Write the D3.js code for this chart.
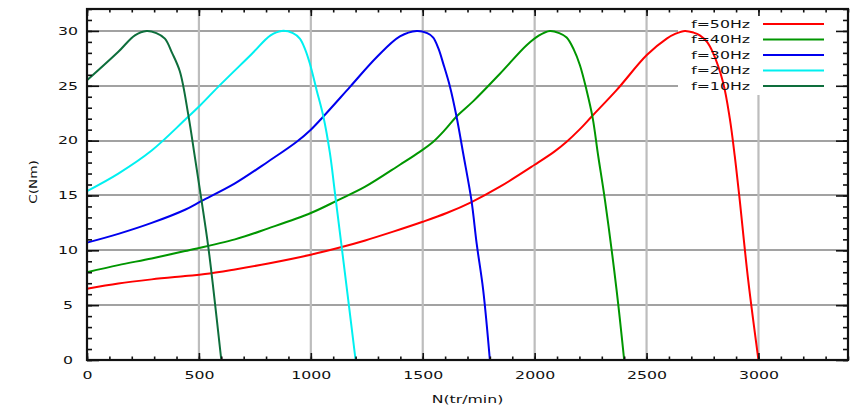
<!DOCTYPE html>
<html lang="fr">
  <head>
    <meta charset="UTF-8" />
    <title>C(N)</title>
    <style>
      body { margin: 0; background: #fff; }
      text { font-family: "DejaVu Sans", sans-serif; font-size: 10.5px; fill: #111; }
    </style>
  </head>
  <body>
    <div class="chart"></div>

    <script src="https://d3js.org/d3.v7.min.js"></script>
    <script>
      // valeurs : N (tr/min) et C (Nm)
      const n50 = [0, 140, 289, 438, 527, 661, 810, 1000, 1138, 1243, 1368, 1500, 1607, 1718, 1845, 2000, 2088, 2143, 2200, 2255, 2366, 2501, 2590, 2630, 2671, 2710, 2738, 2770, 2797, 2842, 2872, 2894, 2914, 2954, 3000];
      const c50 = [6.5, 6.98, 7.35, 7.65, 7.83, 8.26, 8.8, 9.6, 10.3, 10.9, 11.7, 12.6, 13.4, 14.4, 15.8, 17.8, 19.0, 19.9, 21.0, 22.2, 24.6, 27.8, 29.3, 29.75, 30.0, 29.85, 29.6, 29.0, 28.0, 25.3, 22.0, 18.6, 15.0, 7.3, 0];

      const n40 = [0, 140, 289, 438, 661, 810, 1000, 1124, 1243, 1398, 1488, 1547, 1600, 1651, 1726, 1845, 1964, 2020, 2068, 2110, 2143, 2175, 2202, 2232, 2259, 2284, 2314, 2366, 2400];
      const c40 = [8.0, 8.65, 9.26, 9.93, 11.0, 12.0, 13.4, 14.6, 15.8, 17.8, 19.0, 19.9, 21.0, 22.2, 23.6, 26.1, 28.7, 29.6, 30.0, 29.8, 29.4, 28.3, 26.9, 24.6, 22.1, 18.6, 14.6, 6.4, 0];

      const n30 = [0, 140, 289, 438, 512, 661, 810, 937, 1000, 1056, 1175, 1294, 1398, 1473, 1520, 1547, 1570, 1592, 1622, 1651, 1681, 1718, 1741, 1770, 1800];
      const c30 = [10.7, 11.5, 12.5, 13.7, 14.5, 16.1, 18.1, 19.9, 21.0, 22.2, 24.9, 27.6, 29.5, 30.0, 29.8, 29.4, 28.4, 27.0, 24.9, 22.2, 18.8, 14.5, 10.6, 6.4, 0];

      const n20 = [0, 140, 289, 438, 505, 586, 736, 820, 870, 920, 951, 975, 996, 1026, 1056, 1085, 1108, 1167, 1200];
      const c20 = [15.4, 17.0, 19.1, 21.9, 23.2, 24.9, 27.9, 29.6, 30.0, 29.8, 29.3, 28.3, 27.0, 24.6, 22.2, 18.9, 15.2, 5.5, 0];

      const n10 = [0, 140, 214, 266, 310, 348, 380, 415, 453, 482, 512, 542, 565, 600];
      const c10 = [25.5, 28.1, 29.6, 30.0, 29.8, 29.3, 28.0, 26.3, 22.3, 18.5, 14.5, 10.3, 6.4, 0];

      const seriesNames = ["f=50Hz", "f=40Hz", "f=30Hz", "f=20Hz", "f=10Hz"];
      const xTicks = [0, 500, 1000, 1500, 2000, 2500, 3000];
      const yTicks = [0, 5, 10, 15, 20, 25, 30];

      const colors = ["#ff0000", "#009600", "#0000ee", "#00f0f0", "#0e6e3c"];
      const series = [
        [n50, c50],
        [n40, c40],
        [n30, c30],
        [n20, c20],
        [n10, c10],
      ].map(([n, c], i) => ({
        name: seriesNames[i],
        color: colors[i],
        pts: n.map((v, j) => ({ n: v, c: c[j] })),
      }));

      const W = 860, H = 412;
      const m = { left: 87, top: 9, right: 12, bottom: 52 };
      const x0 = m.left, x1 = W - m.right, y0 = H - m.bottom, y1 = m.top;
      const sx = 1.5; // police étirée horizontalement

      const svg = d3.select(".chart").append("svg").attr("width", W).attr("height", H);
      svg.append("rect").attr("width", W).attr("height", H).attr("fill", "#fff");

      const xScale = d3.scaleLinear().domain([0, 3400]).range([x0, x1]);
      const yScale = d3.scaleLinear().domain([0, 32]).range([y0, y1]);

      // grille
      const grid = svg.append("g");
      grid.selectAll("rect.gy").data(yTicks.slice(1)).enter().append("rect")
        .attr("class", "gy")
        .attr("x", x0)
        .attr("y", (d) => Math.round(yScale(d)) - 1)
        .attr("width", x1 - x0)
        .attr("height", 2)
        .attr("fill", "#a2a2a2");

      grid.selectAll("rect.gx").data(xTicks.slice(1)).enter().append("rect")
        .attr("class", "gx")
        .attr("x", (d) => xScale(d) - 1.1)
        .attr("y", y1)
        .attr("width", 2.2)
        .attr("height", y0 - y1)
        .attr("fill", "#bdbdbd");

      // fond de la légende
      svg.append("rect").attr("x", 678).attr("y", y1 + 1).attr("width", x1 - 678 - 1).attr("height", 85).attr("fill", "#fff");

      // courbes
      const line = d3.line()
        .x((d) => xScale(d.n))
        .y((d) => yScale(d.c))
        .curve(d3.curveCatmullRom.alpha(0.5));

      svg.append("g").selectAll("path").data(series).enter().append("path")
        .attr("d", (d) => line(d.pts))
        .attr("fill", "none")
        .attr("stroke", (d) => d.color)
        .attr("stroke-width", 2)
        .attr("stroke-linejoin", "round");

      // axes (graduations vers l'intérieur)
      const minorX = d3.range(0, 3401, 100);
      const minorY = d3.range(0, 33, 1);

      const addAxis = (axis, tx, ty) =>
        svg.append("g").attr("transform", `translate(${tx},${ty})`).call(axis)
          .call((g) => g.select(".domain").remove())
          .call((g) => g.selectAll("line").attr("stroke", "#111").attr("stroke-width", 1.6));

      addAxis(d3.axisBottom(xScale).tickValues(minorX).tickSize(-3.5).tickFormat(""), 0, y0);
      addAxis(d3.axisTop(xScale).tickValues(minorX).tickSize(-3.5).tickFormat(""), 0, y1);
      addAxis(d3.axisLeft(yScale).tickValues(minorY).tickSize(-5).tickFormat(""), x0, 0);
      addAxis(d3.axisRight(yScale).tickValues(minorY).tickSize(-5).tickFormat(""), x1, 0);
      addAxis(d3.axisTop(xScale).tickValues(xTicks).tickSize(-7).tickFormat(""), 0, y1);
      addAxis(d3.axisRight(yScale).tickValues(yTicks).tickSize(-12).tickFormat(""), x1, 0);

      addAxis(d3.axisBottom(xScale).tickValues(xTicks).tickSize(-7).tickPadding(12).tickFormat(d3.format("d")), 0, y0)
        .selectAll("text")
        .attr("x", 0)
        .attr("transform", `scale(${sx},1)`)
        .attr("text-anchor", "middle");

      addAxis(d3.axisLeft(yScale).tickValues(yTicks).tickSize(-12).tickFormat(d3.format("d")), x0, 0)
        .selectAll("text")
        .attr("x", 0)
        .attr("transform", `translate(-19,0) scale(${sx},1)`)
        .attr("text-anchor", "middle");

      // cadre
      svg.append("rect")
        .attr("x", x0).attr("y", y1)
        .attr("width", x1 - x0).attr("height", y0 - y1)
        .attr("fill", "none").attr("stroke", "#111").attr("stroke-width", 2.2);

      // titres des axes
      svg.append("text")
        .attr("transform", `translate(${(x0 + x1) / 2},403) scale(${sx},1)`)
        .attr("text-anchor", "middle")
        .text("N(tr/min)");

      svg.append("text")
        .attr("transform", `translate(37,182) rotate(-90) scale(1.3,1)`)
        .attr("text-anchor", "middle")
        .text("C(Nm)");

      // légende
      const leg = svg.append("g").selectAll("g").data(series).enter().append("g")
        .attr("transform", (d, i) => `translate(0,${24 + i * 15.5})`);

      leg.append("text")
        .attr("transform", `translate(750,0) scale(${sx},1)`)
        .attr("text-anchor", "end")
        .attr("dy", "0.35em")
        .text((d) => d.name);

      leg.append("line")
        .attr("x1", 763).attr("x2", 824)
        .attr("stroke", (d) => d.color)
        .attr("stroke-width", 2);
    </script>
  </body>
</html>
